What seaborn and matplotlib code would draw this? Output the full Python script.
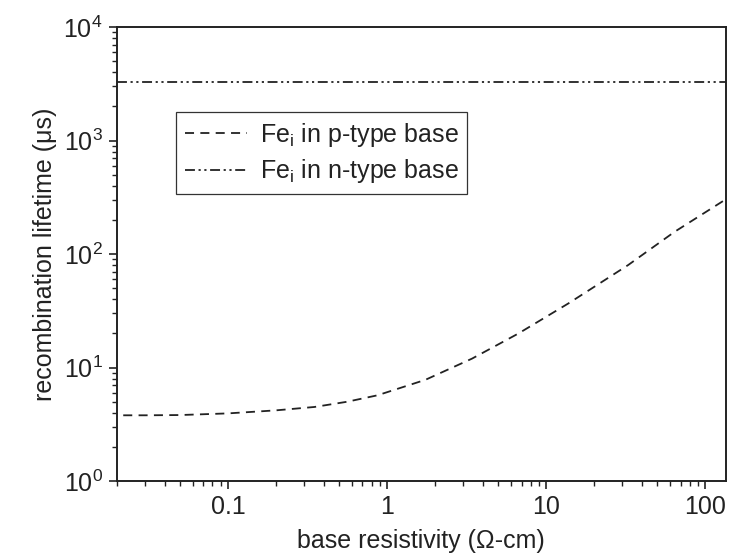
import numpy as np
import pandas as pd
import matplotlib
matplotlib.use("Agg")
import matplotlib.pyplot as plt
import matplotlib.ticker as mticker
import seaborn as sns

# Datos
rho_p = [0.022, 0.03, 0.05, 0.1, 0.2, 0.35, 0.56, 0.87, 1.74, 3.42, 6.7, 13.8, 32.7, 64, 132]
tau_p = [3.8, 3.8, 3.82, 3.95, 4.2, 4.5, 5.0, 5.7, 7.8, 12.0, 20.0, 36.8, 80, 157, 299]
rho_n = [0.02, 135]
tau_n = [3300, 3300]

etiqueta_p = "Fe$_\\mathregular{i}$ in p-type base"
etiqueta_n = "Fe$_\\mathregular{i}$ in n-type base"

sns.set_theme(style="ticks")
plt.rcParams["font.family"] = ["Liberation Sans", "DejaVu Sans"]
plt.rcParams["mathtext.fontset"] = "custom"
plt.rcParams["mathtext.rm"] = "Liberation Sans"
plt.rcParams["mathtext.default"] = "regular"

fig = plt.figure(figsize=(7.29, 5.53), dpi=100)
ax = fig.add_axes([0.160, 0.130, 0.836, 0.821])

df_p = pd.DataFrame({"rho": rho_p, "tau": tau_p})
df_n = pd.DataFrame({"rho": rho_n, "tau": tau_n})

sns.lineplot(data=df_p, x="rho", y="tau", ax=ax, color="#222222", linewidth=1.3,
             label=etiqueta_p, dashes=False)
sns.lineplot(data=df_n, x="rho", y="tau", ax=ax, color="#222222", linewidth=1.3,
             label=etiqueta_n, dashes=False)
ax.lines[0].set_dashes((5, 3.5))
ax.lines[1].set_dashes((5.5, 2.0, 1.2, 2.0, 1.2, 2.0))

ax.set_xscale("log")
ax.set_yscale("log")
ax.set_xlim(0.02, 135)
ax.set_ylim(1, 1e4)

ax.xaxis.set_major_locator(mticker.FixedLocator([0.1, 1, 10, 100]))
ax.xaxis.set_major_formatter(mticker.FixedFormatter(["0.1", "1", "10", "100"]))
ax.xaxis.set_minor_locator(mticker.LogLocator(base=10, subs=np.arange(2, 10)))
ax.xaxis.set_minor_formatter(mticker.NullFormatter())
ax.yaxis.set_major_locator(mticker.LogLocator(base=10, numticks=10))
ax.yaxis.set_major_formatter(mticker.LogFormatterMathtext())
ax.yaxis.set_minor_locator(mticker.LogLocator(base=10, subs=np.arange(2, 10), numticks=20))
ax.yaxis.set_minor_formatter(mticker.NullFormatter())

ax.tick_params(which="major", direction="out", length=6, width=1.2, labelsize=18,
               colors="#222222", pad=4)
ax.tick_params(which="minor", direction="out", length=3.5, width=1.0, colors="#222222")
for sp in ax.spines.values():
    sp.set_visible(True)
    sp.set_linewidth(1.4)
    sp.set_color("#222222")

ax.set_xlabel("base resistivity (\u03a9-cm)", fontsize=18, color="#222222", labelpad=7)
ax.set_ylabel("recombination lifetime (\u03bcs)", fontsize=18, color="#222222", labelpad=5)

leg = ax.legend(loc="upper left", bbox_to_anchor=(0.097, 0.813), borderaxespad=0,
                fontsize=18, frameon=True, fancybox=False, shadow=False,
                handlelength=2.5, handletextpad=0.5, borderpad=0.35, labelspacing=0.35)
leg.get_frame().set_edgecolor("#333333")
leg.get_frame().set_linewidth(0.9)
leg.get_frame().set_alpha(1)
for t in leg.get_texts():
    t.set_color("#222222")

fig.savefig("out.png", dpi=100)
